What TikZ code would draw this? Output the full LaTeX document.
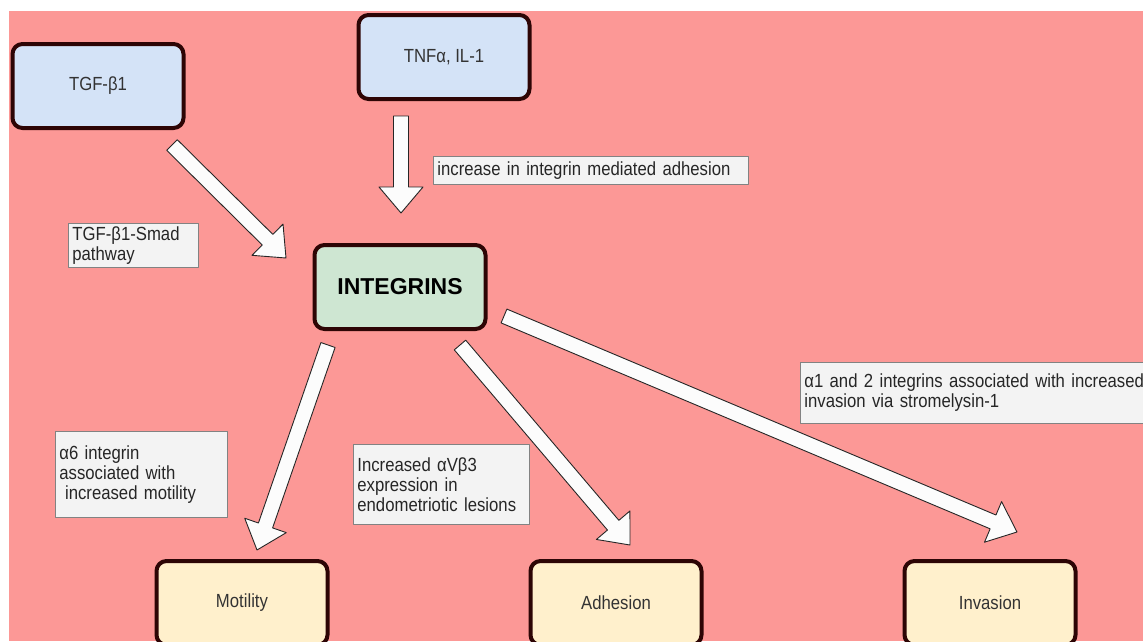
\documentclass[tikz,border=0pt]{standalone}
\usepackage{fontspec}
\setmainfont{Liberation Sans}[FakeStretch=0.88]
\newfontfamily\headfont{Liberation Sans}
\usetikzlibrary{calc}
\definecolor{bgpink}{RGB}{252,152,150}
\definecolor{boxline}{RGB}{45,5,5}
\definecolor{topblue}{RGB}{212,227,247}
\definecolor{midgreen}{RGB}{206,230,210}
\definecolor{lowyellow}{RGB}{255,240,204}
\definecolor{notefill}{RGB}{243,243,243}
\definecolor{notegray}{RGB}{130,130,130}
% block arrow from #1 to #2
\newcommand{\fatarrow}[2]{%
  \coordinate (hb) at ($(#2)!26pt!(#1)$);
  \draw[fatarr] ($(#1)!7.5pt!90:(#2)$) -- ($(hb)!7.5pt!90:(#2)$) -- ($(hb)!22pt!90:(#2)$) -- (#2)
    -- ($(hb)!22pt!-90:(#2)$) -- ($(hb)!7.5pt!-90:(#2)$) -- ($(#1)!7.5pt!-90:(#2)$) -- cycle;}
\begin{document}
\begin{tikzpicture}[x=1pt,y=-1pt,line join=round,font=\fontsize{19}{20}\selectfont,
  box/.style={draw=boxline,line width=4pt,rounded corners=10pt,minimum width=171pt,minimum height=84pt,text=black!80},
  note/.style={draw=notegray,fill=notefill,line width=0.8pt,anchor=north west,align=left,
    inner xsep=4pt,inner ysep=1pt,text=black!85},
  fatarr/.style={draw=black!85,fill=white!99!black,line width=0.9pt}]
  \useasboundingbox (0,0) rectangle (1143,641);
  \fill[bgpink] (9,11) rectangle (1143,641);
  % boxes
  \node[box,fill=topblue] (tgf) at (98,86) {TGF-β1};
  \node[box,fill=topblue] (tnf) at (444,57) {TNFα, IL-1};
  \node[box,fill=midgreen,font=\headfont\fontsize{23}{26}\selectfont\bfseries,text=black] (integrins) at (400,287) {INTEGRINS};
  \node[box,fill=lowyellow] (motility) at (242,603) {Motility};
  \node[box,fill=lowyellow] (adhesion) at (616,603) {Adhesion};
  \node[box,fill=lowyellow] (invasion) at (990,603) {Invasion};
  % labels
  \node[note,text width=122pt,minimum height=44pt] (smad) at (68,223) {TGF-β1-Smad\\pathway};
  \node[note,text width=307pt,minimum height=28pt] (incadh) at (433,156) {increase in integrin mediated adhesion};
  \node[note,text width=164pt,minimum height=86pt] (alpha6) at (55,431) {α6 integrin\\associated with\\\hspace{0.3em}increased motility};
  \node[note,text width=168pt,minimum height=80pt] (avb3) at (353,444) {Increased αVβ3\\expression in\\endometriotic lesions};
  \node[note,text width=360pt,minimum height=61pt] (alpha12) at (800,362) {α1 and 2 integrins associated with increased\\invasion via stromelysin-1};
  % arrow ends
  \coordinate (tgf-out) at (172,145);
  \coordinate (tgf-in) at (286,258);
  \coordinate (tnf-out) at (401,116);
  \coordinate (tnf-in) at (401,213);
  \coordinate (mot-out) at (328,345);
  \coordinate (mot-in) at (257,550);
  \coordinate (adh-out) at (460,345);
  \coordinate (adh-in) at (630,545);
  \coordinate (inv-out) at (504,316);
  \coordinate (inv-in) at (1017,532);
  \fatarrow{tgf-out}{tgf-in}
  \fatarrow{tnf-out}{tnf-in}
  \fatarrow{mot-out}{mot-in}
  \fatarrow{adh-out}{adh-in}
  \fatarrow{inv-out}{inv-in}
\end{tikzpicture}
\end{document}
